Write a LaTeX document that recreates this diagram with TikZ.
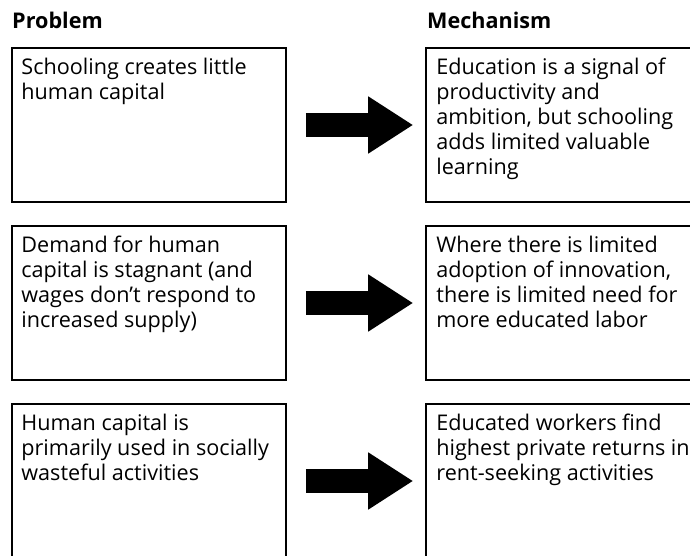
\documentclass[tikz,border=0pt]{standalone}
\usepackage{fontspec}
\setmainfont{Open Sans}
\usetikzlibrary{arrows.meta}

\tikzset{
	box/.style={draw,line width=1.6pt,minimum width=274pt,minimum height=154pt,inner sep=0pt},
	mbox/.style={box,minimum width=280pt},
	txt/.style={anchor=north west,align=left,inner sep=0pt,font=\fontsize{21.6}{25}\selectfont},
	head/.style={anchor=base west,inner sep=0pt,font=\fontsize{21.6}{25}\selectfont\bfseries},
	fat/.style={line width=24pt,-{Triangle[width=54pt,length=45pt]},shorten <=19pt,shorten >=12pt}
}

\begin{document}
\begin{tikzpicture}
	[x=1pt,y=-1pt]
	\useasboundingbox (0,0) rectangle (690,556);
	\node[head] (hp) at (12,28.5) {Problem};
	\node[head] (hm) at (427,28.5) {Mechanism};
	
	\node[box] (p1) at (149,125) {};
	\node[box] (p2) at (149,303) {};
	\node[box] (p3) at (149,481) {};
	
	\node[mbox] (m1) at (566,125) {};
	\node[mbox] (m2) at (566,303) {};
	\node[mbox] (m3) at (566,481) {};
	
	\node[txt] (p1t) at ([xshift=10pt,yshift=-11pt]p1.north west) {Schooling creates little\\human capital};
	\node[txt] (p2t) at ([xshift=10pt,yshift=-11pt]p2.north west) {Demand for human\\capital is stagnant (and\\wages don’t respond to\\increased supply)};
	\node[txt] (p3t) at ([xshift=10pt,yshift=-11pt]p3.north west) {Human capital is\\primarily used in socially\\wasteful activities};
	
	\node[txt] (m1t) at ([xshift=11pt,yshift=-11pt]m1.north west) {Education is a signal of\\productivity and\\ambition, but schooling\\adds limited valuable\\learning};
	\node[txt] (m2t) at ([xshift=11pt,yshift=-11pt]m2.north west) {Where there is limited\\adoption of innovation,\\there is limited need for\\more educated labor};
	\node[txt] (m3t) at ([xshift=11pt,yshift=-11pt]m3.north west) {Educated workers find\\highest private returns in\\rent-seeking activities};
	
	\foreach \from/\to in {p1/m1,p2/m2,p3/m3}
	\draw[fat] (\from) -- (\to);
\end{tikzpicture}
\end{document}
